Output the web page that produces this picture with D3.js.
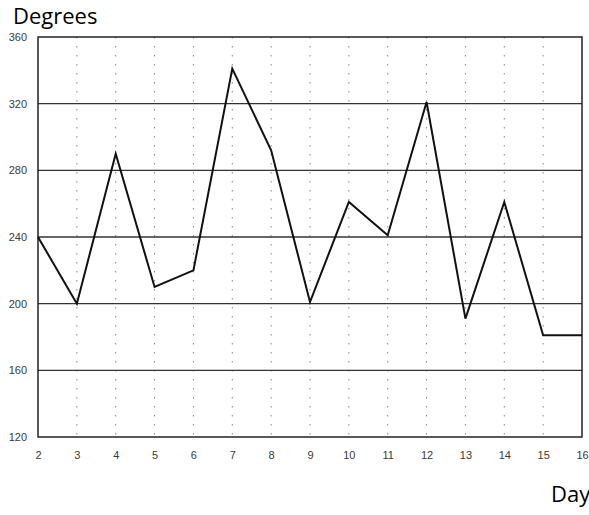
<!DOCTYPE html>
<html>
<head>
<meta charset="utf-8">
<script src="https://cdn.jsdelivr.net/npm/d3@7"></script>
<style>
  body { margin: 0; background: #fff; }
  svg { display: block; }
</style>
</head>
<body>
<svg id="chart" width="589" height="515"></svg>
<script>
const days = [2, 3, 4, 5, 6, 7, 8, 9, 10, 11, 12, 13, 14, 15, 16];
const degrees = [240, 200, 290, 210, 220, 341, 292, 201, 261, 241, 321, 191, 261, 181, 181];
const yTicks = [120, 160, 200, 240, 280, 320, 360];
const xTicks = days;

const svg = d3.select("#chart");
const margin = { left: 38, right: 7, top: 37, bottom: 78 };
const W = 589, H = 515;

const x = d3.scaleLinear().domain([2, 16]).range([margin.left, W - margin.right]);
const y = d3.scaleLinear().domain([120, 360]).range([H - margin.bottom, margin.top]);

// vertical dotted grid
svg.append("g").selectAll("line").data(xTicks.slice(1, -1)).join("line")
  .attr("x1", d => x(d)).attr("x2", d => x(d))
  .attr("y1", y(360)).attr("y2", y(120))
  .attr("stroke", "#888").attr("stroke-width", 1)
  .attr("stroke-dasharray", "1.5,7.5");

// horizontal solid grid
svg.append("g").selectAll("line").data(yTicks.slice(1, -1)).join("line")
  .attr("x1", x(2)).attr("x2", x(16))
  .attr("y1", d => y(d)).attr("y2", d => y(d))
  .attr("stroke", "#333").attr("stroke-width", 1.3);

// frame
svg.append("rect")
  .attr("x", x(2)).attr("y", y(360))
  .attr("width", x(16) - x(2)).attr("height", y(120) - y(360))
  .attr("fill", "none").attr("stroke", "#222").attr("stroke-width", 1.5);

// axes (labels only)
const yAxis = d3.axisLeft(y).tickValues(yTicks).tickSize(0).tickPadding(11);
const gy = svg.append("g").attr("transform", `translate(${x(2)},0)`).call(yAxis);
gy.select(".domain").remove();
gy.selectAll("text").attr("font-family", "Liberation Sans, Arial, sans-serif")
  .attr("font-size", 11).attr("fill", "#3a3a3a");

const xAxis = d3.axisBottom(x).tickValues(xTicks).tickFormat(d3.format("d")).tickSize(0).tickPadding(14);
const gx = svg.append("g").attr("transform", `translate(0,${y(120)})`).call(xAxis);
gx.select(".domain").remove();
gx.selectAll("text").attr("font-family", "Liberation Sans, Arial, sans-serif")
  .attr("font-size", 11).attr("fill", "#3a3a3a");

// data line
const line = d3.line().x((d, i) => x(days[i])).y(d => y(d));
svg.append("path").datum(degrees)
  .attr("d", line)
  .attr("fill", "none").attr("stroke", "#111").attr("stroke-width", 2)
  .attr("stroke-linejoin", "miter");

// titles
svg.append("text").attr("x", 13).attr("y", 24)
  .attr("font-family", "Open Sans, sans-serif").attr("font-size", 22)
  .attr("fill", "#000").text("Degrees");
svg.append("text").attr("x", 551).attr("y", 502)
  .attr("font-family", "Open Sans, sans-serif").attr("font-size", 22)
  .attr("fill", "#000").text("Day");
</script>
</body>
</html>
